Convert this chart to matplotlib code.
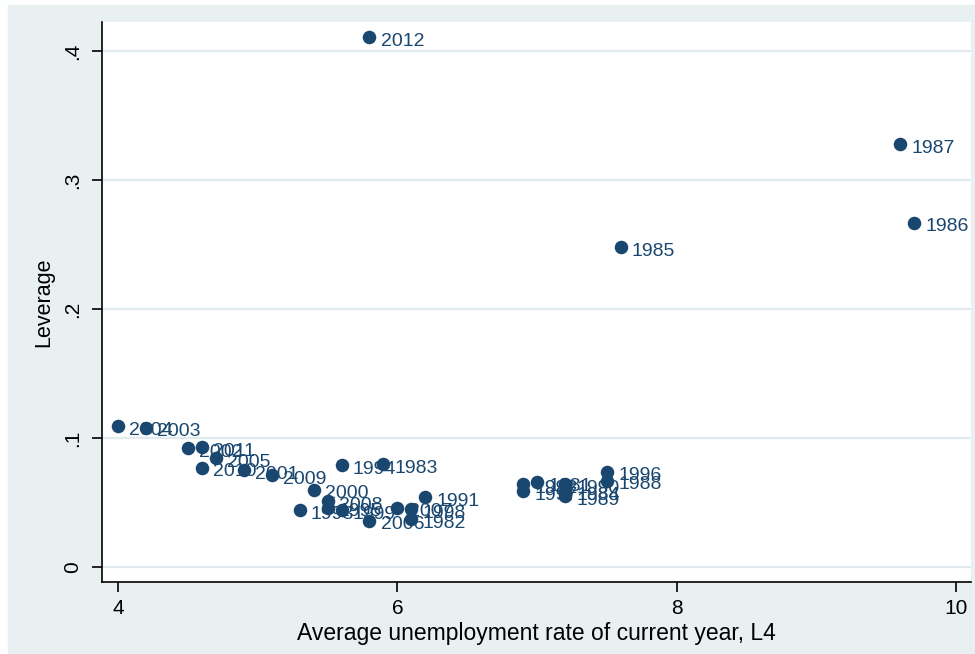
import matplotlib.pyplot as plt
import matplotlib.patches as mpatches

plt.rcParams['font.family'] = ['Liberation Sans', 'Arial', 'DejaVu Sans']

# unemployment rate (L4) and leverage by year
years = [2012, 1987, 1986, 1985,
         2004, 2003, 2002, 2011, 2005, 2010, 2001, 2009,
         2000, 2008, 1993, 1999, 1995, 2006, 1994, 1983,
         2007, 1998, 1982, 1991,
         1992, 1997, 1981, 1990, 1984, 1989, 1996, 1988]
unemp = [5.8, 9.6, 9.7, 7.6,
         4.0, 4.2, 4.5, 4.6, 4.7, 4.6, 4.9, 5.1,
         5.4, 5.5, 5.3, 5.6, 5.5, 5.8, 5.6, 5.9,
         6.0, 6.1, 6.1, 6.2,
         6.9, 6.9, 7.0, 7.2, 7.2, 7.2, 7.5, 7.5]
leverage = [0.411, 0.328, 0.267, 0.248,
            0.109, 0.108, 0.092, 0.093, 0.0845, 0.077, 0.075, 0.071,
            0.060, 0.051, 0.044, 0.044, 0.046, 0.036, 0.079, 0.080,
            0.046, 0.045, 0.037, 0.054,
            0.064, 0.059, 0.066, 0.064, 0.059, 0.055, 0.074, 0.067]

navy = '#1a476f'
bg = '#e9f0f2'
grid = '#e1eaed'

fig = plt.figure(figsize=(9.75, 6.54), dpi=100)
fig.patches.append(mpatches.Rectangle((8 / 975, 1 / 654), 967 / 975, 648 / 654,
                                      transform=fig.transFigure, color=bg, zorder=-10))

ax = fig.add_axes([102 / 975, 72 / 654, 869 / 975, 560 / 654])
ax.set_facecolor('white')

ax.scatter(unemp, leverage, s=95, color=navy, zorder=3, linewidths=0)
for yr, xv, yv in zip(years, unemp, leverage):
    ax.annotate(str(yr), (xv, yv), xytext=(8, -3), textcoords='offset points',
                va='center', ha='left', fontsize=14, color=navy, zorder=4)

ax.set_xlim(3.885, 10.107)
ax.set_ylim(-0.0116, 0.4225)
ax.set_xticks([4, 6, 8, 10])
ax.set_yticks([0, 0.1, 0.2, 0.3, 0.4])
ax.set_yticklabels(['0', '.1', '.2', '.3', '.4'], rotation=90, va='center', fontsize=15)
ax.set_xticklabels(['4', '6', '8', '10'], fontsize=15)
ax.yaxis.grid(True, color=grid, linewidth=1.6, zorder=0)
ax.set_axisbelow(True)

for side in ['top', 'right']:
    ax.spines[side].set_visible(False)
for side in ['left', 'bottom']:
    ax.spines[side].set_color('black')
    ax.spines[side].set_linewidth(1.2)
ax.tick_params(direction='out', length=7, width=1.2, color='black')
ax.tick_params(axis='y', pad=7.5)
ax.tick_params(axis='x', pad=5)

ax.set_xlabel('Average unemployment rate of current year, L4', fontsize=16.5, labelpad=3)
ax.set_ylabel('Leverage', fontsize=15.5, labelpad=6)

fig.savefig('out.png', dpi=100, facecolor='white')
